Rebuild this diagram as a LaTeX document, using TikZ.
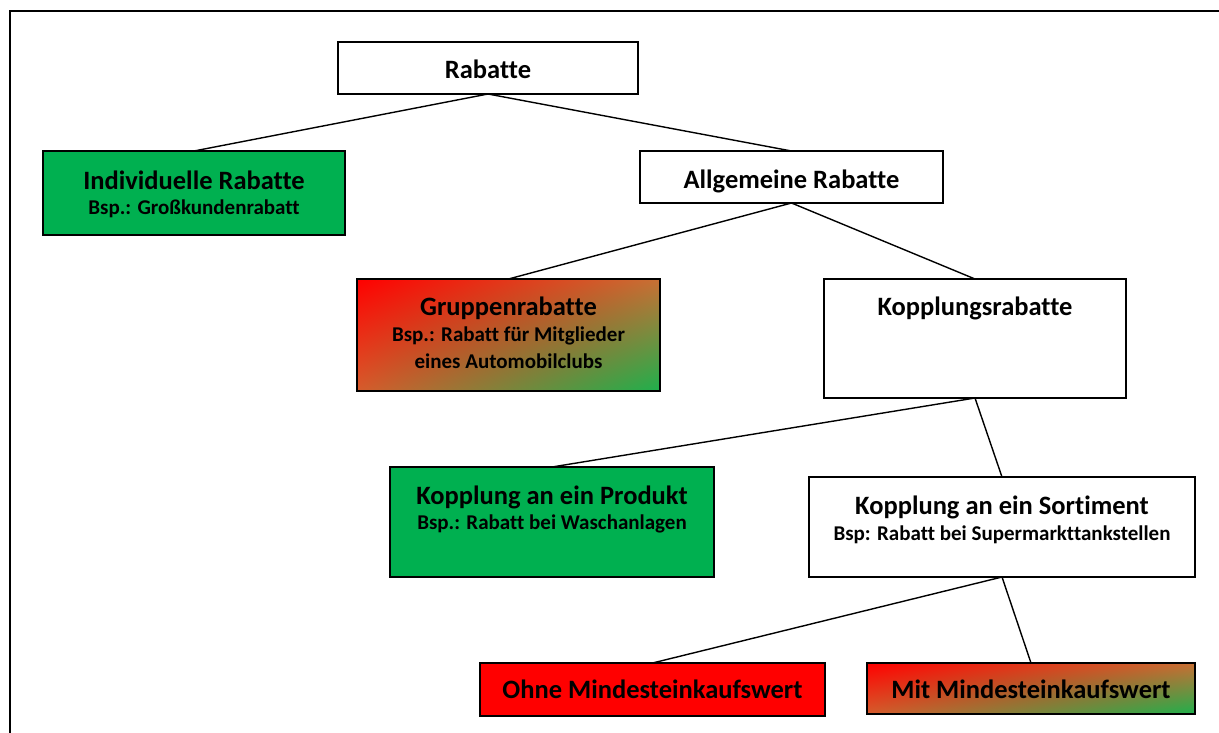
\documentclass[tikz,border=0pt]{standalone}
\usepackage{fontspec}
\usetikzlibrary{shadings}
\setmainfont{Carlito}[Ligatures=NoCommon]
\definecolor{grn}{RGB}{0,176,80}
\definecolor{rd}{RGB}{255,0,0}
\definecolor{gend}{RGB}{30,176,76}
\definecolor{gtr}{RGB}{200,112,52}
\definecolor{gbl}{RGB}{214,92,44}
\tikzset{
  box/.style={draw=black, line width=1.6pt, inner sep=0pt, fill=white},
  gbox/.style={box, fill=grn},
  rbox/.style={box, fill=rd},
  grad/.style={box, shade, upper left=rd, lower right=gend, upper right=gtr, lower left=gbl},
  ttl/.style={anchor=base, inner sep=0pt, font=\fontsize{26.5}{32}\selectfont\bfseries},
  sbt/.style={anchor=base, inner sep=0pt, font=\fontsize{21}{26}\selectfont\bfseries},
  link/.style={draw=black, line width=1.4pt}
}
\begin{document}
\begin{tikzpicture}[x=1pt,y=-1pt]
\useasboundingbox (0,0) rectangle (1219,733);
\fill[white] (0,0) rectangle (1219,733);
\draw[line width=1.8pt] (10,733) -- (10,11) -- (1219,11);

% connectors (behind boxes)
\coordinate (r-s) at (488,94);
\coordinate (ind-n) at (194,151);
\coordinate (allg-n) at (791.5,151);
\coordinate (allg-s) at (791.5,203);
\coordinate (grp-n) at (508.5,279);
\coordinate (kr-n) at (975,279);
\coordinate (kr-s) at (975,398);
\coordinate (kp-n) at (552,467);
\coordinate (ks-n) at (1002,477);
\coordinate (ks-s) at (1002,577);
\coordinate (ohne-n) at (652.5,663);
\coordinate (mit-n) at (1031,663);
\draw[link] (r-s) -- (ind-n);
\draw[link] (r-s) -- (allg-n);
\draw[link] (allg-s) -- (grp-n);
\draw[link] (allg-s) -- (kr-n);
\draw[link] (kr-s) -- (kp-n);
\draw[link] (kr-s) -- (ks-n);
\draw[link] (ks-s) -- (ohne-n);
\draw[link] (ks-s) -- (mit-n);

% boxes
\node[box, minimum width=300pt, minimum height=52pt] (r) at (488,68) {};
\node[gbox, minimum width=302pt, minimum height=84pt] (ind) at (194,193) {};
\node[box, minimum width=303pt, minimum height=52pt] (allg) at (791.5,177) {};
\node[grad, minimum width=303pt, minimum height=112pt] (grp) at (508.5,335) {};
\node[box, minimum width=302pt, minimum height=119pt] (kr) at (975,338.5) {};
\node[gbox, minimum width=324pt, minimum height=110pt] (kp) at (552,522) {};
\node[box, minimum width=386pt, minimum height=100pt] (ks) at (1002,527) {};
\node[rbox, minimum width=345pt, minimum height=53pt] (ohne) at (652.5,689.5) {};
\node[grad, minimum width=328pt, minimum height=51pt] (mit) at (1031,688.5) {};

% texts
\node[ttl] (r-t) at (488,78.5) {Rabatte};
\node[ttl] (ind-t) at (194,189.5) {Individuelle Rabatte};
\node[sbt] (ind-s) at (194,214.8) {Bsp.: Großkundenrabatt};
\node[ttl] (allg-t) at (791.5,188.5) {Allgemeine Rabatte};
\node[ttl] (grp-t) at (508.5,315.5) {Gruppenrabatte};
\node[sbt] (grp-s1) at (508.5,341.8) {Bsp.: Rabatt für Mitglieder};
\node[sbt] (grp-s2) at (508.5,368.8) {eines Automobilclubs};
\node[ttl] (kr-t) at (975,315.5) {Kopplungsrabatte};
\node[ttl] (kp-t) at (552,504.5) {Kopplung an ein Produkt};
\node[sbt] (kp-s) at (552,529.8) {Bsp.: Rabatt bei Waschanlagen};
\node[ttl] (ks-t) at (1002,514.5) {Kopplung an ein Sortiment};
\node[sbt] (ks-s) at (1002,540.8) {Bsp: Rabatt bei Supermarkttankstellen};
\node[ttl] (ohne-t) at (652.5,698.5) {Ohne Mindesteinkaufswert};
\node[ttl] (mit-t) at (1031,698.5) {Mit Mindesteinkaufswert};
\end{tikzpicture}
\end{document}
